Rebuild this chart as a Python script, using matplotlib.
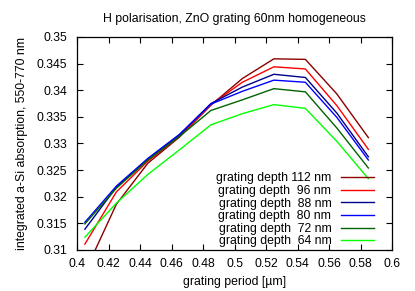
import numpy as np
import matplotlib
matplotlib.use('Agg')
import matplotlib.pyplot as plt

plt.rcParams['font.family'] = ['Liberation Sans', 'DejaVu Sans']
plt.rcParams['font.size'] = 8.8

# grating period [um]
period = [0.405, 0.425, 0.445, 0.465, 0.485, 0.505, 0.525, 0.545, 0.565, 0.585]

# integrated absorption per grating depth
d112 = [0.3058, 0.3186, 0.3263, 0.3312, 0.3372, 0.3422, 0.3459, 0.3458, 0.3393, 0.3311]
d96 = [0.3111, 0.3209, 0.3267, 0.3313, 0.3373, 0.3415, 0.3444, 0.3440, 0.3371, 0.3289]
d88 = [0.3139, 0.3218, 0.3271, 0.3316, 0.3375, 0.3406, 0.3430, 0.3424, 0.3357, 0.3275]
d80 = [0.3152, 0.3220, 0.3272, 0.3317, 0.3374, 0.3398, 0.3419, 0.3415, 0.3349, 0.3269]
d72 = [0.3149, 0.3216, 0.3269, 0.3313, 0.3362, 0.3382, 0.3403, 0.3397, 0.3329, 0.3254]
d64 = [0.3124, 0.3188, 0.3242, 0.3288, 0.3335, 0.3356, 0.3373, 0.3366, 0.3304, 0.3234]

series = [
    (d112, 'grating depth 112 nm', '#8b0000'),
    (d96, 'grating depth  96 nm', '#ff0000'),
    (d88, 'grating depth  88 nm', '#00008b'),
    (d80, 'grating depth  80 nm', '#0000ff'),
    (d72, 'grating depth  72 nm', '#006400'),
    (d64, 'grating depth  64 nm', '#00ff00'),
]

fig = plt.figure(figsize=(4.15, 2.91), dpi=100)
ax = fig.add_axes([77/415, 1-250/291, 315/415, 213/291])

for ys, lab, col in series:
    ax.plot(period, ys, color=col, lw=1.0, label=lab)

ax.set_xlim(0.4, 0.6)
ax.set_ylim(0.31, 0.35)
ax.set_xticks(np.arange(0.4, 0.6001, 0.02))
ax.set_yticks(np.arange(0.31, 0.3501, 0.005))
ax.set_xticklabels(['%g' % round(v, 3) for v in ax.get_xticks()])
ax.set_yticklabels(['%g' % round(v, 3) for v in ax.get_yticks()])
ax.tick_params(direction='in', top=True, right=True, length=4, width=0.8)
ax.tick_params(axis='x', pad=6)
ax.tick_params(axis='y', pad=7)
for s in ax.spines.values():
    s.set_linewidth(0.9)

ax.set_title('H polarisation, ZnO grating 60nm homogeneous', fontsize=8.8, pad=11)
ax.set_xlabel('grating period [µm]', labelpad=4)
ax.set_ylabel('integrated a-Si absorption, 550-770 nm', labelpad=6)

leg = ax.legend(loc='lower right', bbox_to_anchor=(0.955, -0.005), frameon=False,
                markerfirst=False, handlelength=2.75, handletextpad=0.75,
                labelspacing=0.05, borderpad=0.3, borderaxespad=0.0)

fig.savefig('out.png', dpi=100)
